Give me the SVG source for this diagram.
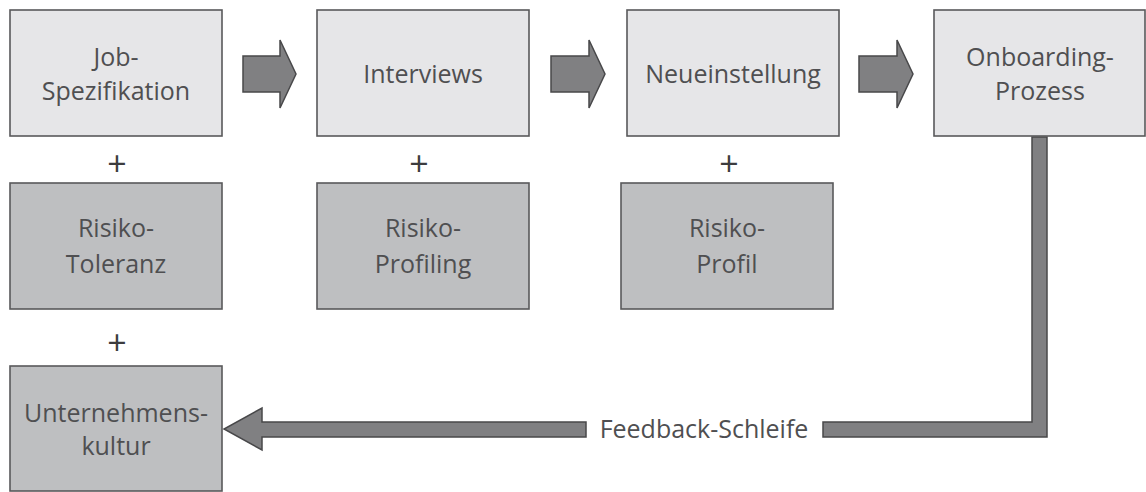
<svg xmlns="http://www.w3.org/2000/svg" width="1146" height="492" viewBox="0 0 1146 492">
<style>
.light{fill:#e6e6e8;stroke:#59595b;stroke-width:1.6}
.dark{fill:#bebfc1;stroke:#59595b;stroke-width:1.6}
.arr{fill:#808082;stroke:#48484a;stroke-width:1.5;stroke-linejoin:miter}
text{font-family:"Open Sans","Liberation Sans",sans-serif;font-size:25px;fill:#4f4f51;text-anchor:middle}
.plus{font-size:34px;fill:#3c3c3e}
</style>
<rect width="1146" height="492" fill="#ffffff"/>
<g id="connectors">
<polygon class="arr" points="243,56 280,56 280,40 296,74 280,108 280,92 243,92"/>
<polygon class="arr" points="551,56 589,56 589,40 605,74 589,108 589,92 551,92"/>
<polygon class="arr" points="859,56 897,56 897,40 913,74 897,108 897,92 859,92"/>
<polygon class="arr" points="823,422 1032,422 1032,137 1047,137 1047,437 823,437"/>
<polygon class="arr" points="586,422 262,422 262,408 224,429 262,450 262,437 586,437"/>
<text x="704" y="438">Feedback-Schleife</text>
</g>
<g id="job-spezifikation">
<rect class="light" x="10" y="10" width="212" height="126"/>
<text x="116" y="66">Job-</text>
<text x="116" y="100">Spezifikation</text>
</g>
<g id="interviews">
<rect class="light" x="317" y="10" width="212" height="126"/>
<text x="423" y="83">Interviews</text>
</g>
<g id="neueinstellung">
<rect class="light" x="627" y="10" width="212" height="126"/>
<text x="733" y="83">Neueinstellung</text>
</g>
<g id="onboarding">
<rect class="light" x="934" y="10" width="211" height="126"/>
<text x="1040" y="66">Onboarding-</text>
<text x="1040" y="100">Prozess</text>
</g>
<g id="plus1"><text class="plus" x="117" y="176">+</text></g>
<g id="plus2"><text class="plus" x="419" y="176">+</text></g>
<g id="plus3"><text class="plus" x="729" y="176">+</text></g>
<g id="plus4"><text class="plus" x="117" y="355">+</text></g>
<g id="risiko-toleranz">
<rect class="dark" x="10" y="183" width="212" height="126"/>
<text x="116" y="237">Risiko-</text>
<text x="116" y="273">Toleranz</text>
</g>
<g id="risiko-profiling">
<rect class="dark" x="317" y="183" width="212" height="126"/>
<text x="423" y="237">Risiko-</text>
<text x="423" y="273">Profiling</text>
</g>
<g id="risiko-profil">
<rect class="dark" x="621" y="183" width="212" height="126"/>
<text x="727" y="237">Risiko-</text>
<text x="727" y="273">Profil</text>
</g>
<g id="unternehmenskultur">
<rect class="dark" x="10" y="366" width="212" height="125"/>
<text x="116" y="422">Unternehmens-</text>
<text x="116" y="455">kultur</text>
</g>
</svg>
